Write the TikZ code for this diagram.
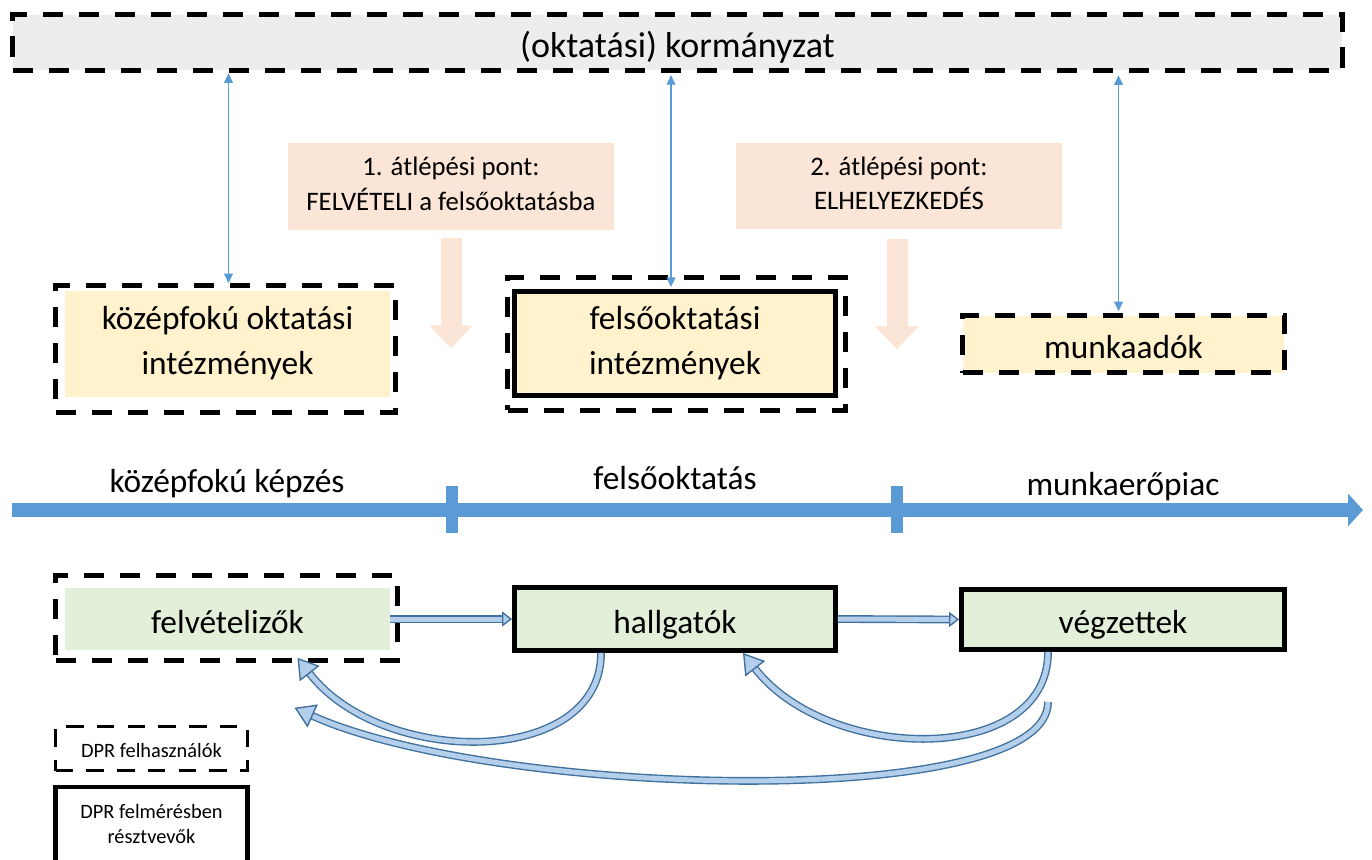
\documentclass[tikz,border=0pt]{standalone}
\usepackage{fontspec}
\setmainfont{Carlito}
\usepackage{xcolor}
\usetikzlibrary{arrows.meta,positioning}

\definecolor{kormgray}{HTML}{EDEDED}
\definecolor{salmon}{HTML}{FBE5D6}
\definecolor{instyellow}{HTML}{FFF2CC}
\definecolor{grpgreen}{HTML}{E2F0D9}
\definecolor{tlblue}{HTML}{5B9BD5}
\definecolor{arrline}{HTML}{41719C}
\definecolor{arrfill}{HTML}{B4CFEB}

\tikzset{
	dashbox/.style={draw=black, line width=2.6pt, dash pattern=on 11.5pt off 9pt, inner sep=0pt},
	solidbox/.style={draw=black, line width=2.8pt, inner sep=0pt},
	fillbox/.style={inner sep=0pt, align=center},
	struts/.style={execute at begin node=\rule{0pt}{1.05em}, execute at end node=\rule[-0.2em]{0pt}{0.2em}},
	bigtext/.style={font=\fontsize{19}{25.5}\selectfont, align=center, struts},
	kormtext/.style={font=\fontsize{20.5}{25.5}\selectfont, align=center, struts},
	passtext/.style={font=\fontsize{15.2}{19.5}\selectfont, struts},
	legtext/.style={font=\fontsize{11.6}{14.2}\selectfont, align=center, struts},
	thinarr/.style={draw=tlblue, line width=0.9pt, {Triangle[width=5pt,length=5.5pt]}-{Triangle[width=5pt,length=5.5pt]}},
	passarr/.style={draw=salmon, line width=0.42cm, -{Triangle[width=0.84cm,length=0.46cm]}},
	timeline/.style={draw=tlblue, line width=0.28cm, -{Triangle[width=0.64cm,length=0.3cm]}},
	tlmark/.style={draw=tlblue, line width=0.25cm},
	blkarr/.style={draw=arrline, line width=0.8pt, double=arrfill, double distance=0.1cm},
	smallhead/.style={-{Triangle[width=0.3cm,length=0.2cm,fill=arrfill,line width=0.8pt]}},
	bighead/.style={-{Triangle[width=0.5cm,length=0.4cm,fill=arrfill,line width=0.8pt]}},
}

\begin{document}
\begin{tikzpicture}[x=0.02cm,y=-0.02cm]
	\clip (0,0) rectangle (1372,859);

	% government on top
	\node[dashbox, fill=kormgray, minimum width=26.6cm, minimum height=1.12cm, kormtext] (korm) at (677.5,42.5) {(oktatási) kormányzat};

	% transition points
	\node[fillbox, fill=salmon, minimum width=6.52cm, minimum height=1.74cm, passtext] (atl1) at (451,186.5) {1. átlépési pont:\\FELVÉTELI a felsőoktatásba};
	\node[fillbox, fill=salmon, minimum width=6.52cm, minimum height=1.72cm, passtext] (atl2) at (899,186) {2. átlépési pont:\\ELHELYEZKEDÉS};
	\draw[passarr] (atl1.south) ++(0,8) -- ++(0,110);
	\draw[passarr] (atl2.south) ++(-2,10) -- ++(0,110);

	% institutions
	\node[fillbox, fill=instyellow, minimum width=6.5cm, minimum height=2.12cm, bigtext] (kozep) at (227.5,344) {középfokú oktatási\\intézmények};
	\node[dashbox, minimum width=6.8cm, minimum height=2.54cm] (kozepx) at (225.5,349) {};
	\node[dashbox, minimum width=6.76cm, minimum height=2.66cm] (felsox) at (676.5,344) {};
	\node[solidbox, fill=instyellow, minimum width=6.42cm, minimum height=2.08cm, bigtext] (felso) at (675,343.5) {felsőoktatási\\intézmények};
	\node[dashbox, fill=instyellow, minimum width=6.44cm, minimum height=1.14cm, bigtext] (munka) at (1123.5,344) {munkaadók};

	\draw[thinarr] (kozepx.north) ++(3,0) -- ++(0,-210);
	\draw[thinarr] (felso.north) ++(-4,-2) -- ++(0,-212);
	\draw[thinarr] (munka.north) ++(-5,-2) -- ++(0,-236);

	% time line
	\coordinate (tl0) at (12,510);
	\coordinate (tl1) at (1363,510);
	\draw[timeline] (tl0) -- (tl1);
	\draw[tlmark] (452,486) -- (452,533);
	\draw[tlmark] (897,486) -- (897,533);
	\node[bigtext, anchor=base] (tlkozep) at (227,492) {középfokú képzés};
	\node[bigtext, anchor=base] (tlfelso) at (675,489) {felsőoktatás};
	\node[bigtext, anchor=base] (tlmunka) at (1123,495) {munkaerőpiac};

	% groups
	\node[fillbox, fill=grpgreen, minimum width=6.5cm, minimum height=1.24cm, bigtext] (felv) at (227.5,619) {felvételizők};
	\node[dashbox, minimum width=6.84cm, minimum height=1.7cm] (felvx) at (226.5,618) {};
	\node[solidbox, fill=grpgreen, minimum width=6.42cm, minimum height=1.26cm, bigtext] (hallg) at (675,619) {hallgatók};
	\node[solidbox, fill=grpgreen, minimum width=6.46cm, minimum height=1.2cm, bigtext] (vegz) at (1123,619.5) {végzettek};

	\draw[blkarr, smallhead] (felv.east) -- (hallg.west);
	\draw[blkarr, smallhead] (hallg.east) -- (vegz.west);
	\draw[blkarr, bighead] ([xshift=-1.48cm]hallg.south) .. controls +(0,115) and +(85,110) .. ([xshift=1.42cm,yshift=0.1cm]felvx.south);
	\draw[blkarr, bighead] ([xshift=-1.5cm]vegz.south) .. controls +(0,115) and +(85,110) .. ([xshift=1.36cm]hallg.south);
	\draw[blkarr, bighead] ([xshift=-1.5cm,yshift=-1cm]vegz.south) .. controls +(0,110) and +(200,90) .. ([xshift=1.36cm,yshift=-0.9cm]felvx.south);

	% legend
	\node[dashbox, line width=2.2pt, dash pattern=on 10pt off 7.5pt, minimum width=3.84cm, minimum height=0.88cm, legtext] (leg1) at (151.5,748.5) {DPR felhasználók};
	\node[solidbox, line width=2.4pt, minimum width=3.84cm, minimum height=1.56cm, legtext] (leg2) at (151.5,826) {DPR felmérésben\\résztvevők};
\end{tikzpicture}
\end{document}
